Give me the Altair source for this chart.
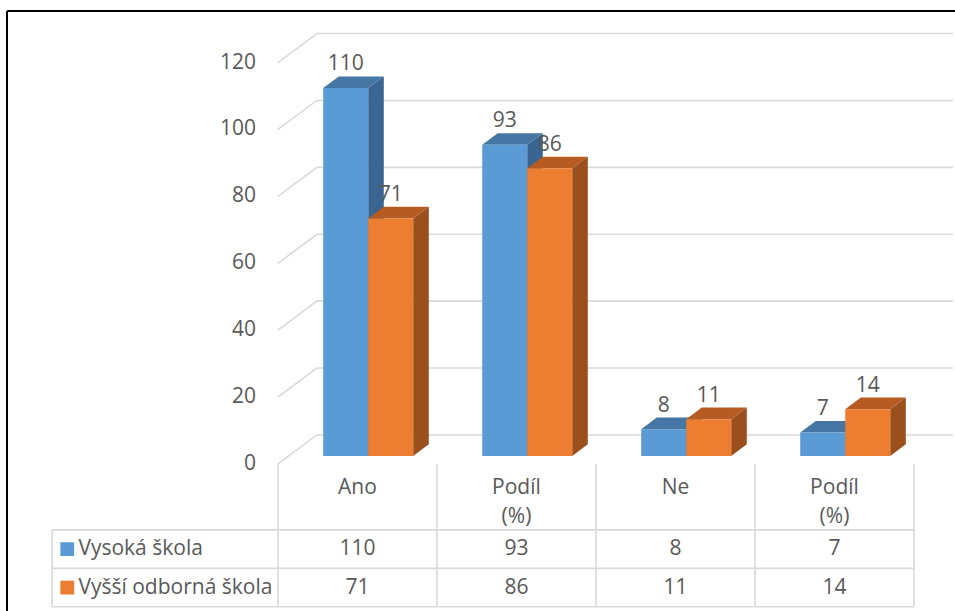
import altair as alt
import pandas as pd

# ---------------- data ----------------
categories = ["Ano", "Podíl (%)", "Ne", "Podíl (%)"]
header_lines = [["Ano"], ["Podíl", "(%)"], ["Ne"], ["Podíl", "(%)"]]
series_names = ["Vysoká škola", "Vyšší odborná škola"]
vysoka_skola = [110, 93, 8, 7]
vyssi_odborna = [71, 86, 11, 14]
y_ticks = [0, 20, 40, 60, 80, 100, 120]

# ---------------- style ----------------
front_colors = ["#5B9BD5", "#ED7D31"]
top_colors = ["#4676A4", "#B65B21"]
side_colors = ["#3A6590", "#9A4F1C"]
TEXT = "#595959"
GRID = "#D9D9D9"
FONT = "Open Sans"
FS = 21

# geometry in data units (x: one unit per category column, y: value units)
X_MIN, X_MAX = -1.748, 4.258
Y_MIN, Y_MAX = -43.95, 138.7
DEPTH_X, DEPTH_Y = 0.245, 8.67
BAR_D0, BAR_DT = 0.276, 0.40
BAR_W = 0.283
WALL_END = 4.245
HEADER_H, ROW_H = 19.7, 11.5
TABLE_LEFT = -1.42
LABEL_X = -0.138
FRAME_X, FRAME_Y = -1.704, 135.4

xs = alt.Scale(domain=[X_MIN, X_MAX], nice=False, zero=False)
ys = alt.Scale(domain=[Y_MIN, Y_MAX], nice=False, zero=False)


def X(f):
    return alt.X(f, type="quantitative", scale=xs, axis=None)


def Y(f):
    return alt.Y(f, type="quantitative", scale=ys, axis=None, stack=None)


layers = []

# gridlines (front-plane diagonal + back wall)
grid_rows = []
for t in y_ticks:
    grid_rows += [
        {"tick": t, "k": 0, "x": 0.0, "y": t},
        {"tick": t, "k": 1, "x": DEPTH_X, "y": t + DEPTH_Y},
        {"tick": t, "k": 2, "x": WALL_END, "y": t + DEPTH_Y},
    ]
layers.append(
    alt.Chart(pd.DataFrame(grid_rows)).mark_line(color=GRID, strokeWidth=1.6).encode(
        x=X("x"), y=Y("y"), detail="tick:N", order="k:Q"
    )
)

# y tick labels
layers.append(
    alt.Chart(pd.DataFrame({"t": y_ticks, "x": [LABEL_X] * len(y_ticks)})).mark_text(
        align="right", baseline="middle", font=FONT, fontSize=FS, color=TEXT
    ).encode(x=X("x"), y=Y("t"), text="t:Q")
)

# bars
bdx, bdy = BAR_DT * DEPTH_X, BAR_DT * DEPTH_Y
ox, oy = BAR_D0 * DEPTH_X, BAR_D0 * DEPTH_Y
label_rows = []
for s, vals in enumerate([vysoka_skola, vyssi_odborna]):
    side_rows, top_rows, front_rows = [], [], []
    for i, v in enumerate(vals):
        xl = i + 0.5 - BAR_W + s * BAR_W + ox
        xr = xl + BAR_W
        y0, y1 = oy, oy + v
        bid = f"{s}-{i}"
        front_rows.append({"id": bid, "x": xl, "x2": xr, "y": y0, "y2": y1})
        side_rows += [
            {"id": bid, "x": xr, "lo": y0, "hi": y1},
            {"id": bid, "x": xr + bdx, "lo": y0 + bdy, "hi": y1 + bdy},
        ]
        top_rows += [
            {"id": bid, "y": y1, "lo": xl, "hi": xr},
            {"id": bid, "y": y1 + bdy, "lo": xl + bdx, "hi": xr + bdx},
        ]
        label_rows.append({"x": xl + BAR_W / 2, "y": y1 + bdy, "v": v})
    layers.append(
        alt.Chart(pd.DataFrame(side_rows)).mark_area(
            orient="vertical", color=side_colors[s], opacity=1
        ).encode(x=X("x"), y=Y("lo"), y2="hi:Q", detail="id:N")
    )
    layers.append(
        alt.Chart(pd.DataFrame(top_rows)).mark_area(
            orient="horizontal", color=top_colors[s], opacity=1
        ).encode(y=Y("y"), x=X("lo"), x2="hi:Q", detail="id:N")
    )
    layers.append(
        alt.Chart(pd.DataFrame(front_rows)).mark_rect(color=front_colors[s]).encode(
            x=X("x"), x2="x2:Q", y=Y("y"), y2="y2:Q"
        )
    )

# value labels
layers.append(
    alt.Chart(pd.DataFrame(label_rows)).mark_text(
        align="center", baseline="alphabetic", dy=-6, font=FONT, fontSize=FS, color=TEXT
    ).encode(x=X("x"), y=Y("y"), text="v:Q")
)

# data table lines
r1 = -HEADER_H
r2 = r1 - ROW_H
r3 = r2 - ROW_H
seg = []
for c in range(5):
    seg.append({"x": c, "x2": c, "y": 0, "y2": r3})
for r in [r1, r2, r3]:
    seg.append({"x": TABLE_LEFT, "x2": 4, "y": r, "y2": r})
seg.append({"x": TABLE_LEFT, "x2": TABLE_LEFT, "y": r1, "y2": r3})
layers.append(
    alt.Chart(pd.DataFrame(seg)).mark_rule(color=GRID, strokeWidth=1.6).encode(
        x=X("x"), x2="x2:Q", y=Y("y"), y2="y2:Q"
    )
)

# header text
hdr = []
for i, lines in enumerate(header_lines):
    for j, ln in enumerate(lines):
        hdr.append({"x": i + 0.5, "y": -HEADER_H * (0.365 + 0.44 * j), "t": ln})
# table values
for s, vals in enumerate([vysoka_skola, vyssi_odborna]):
    yc = r1 - ROW_H * (s + 0.5)
    for i, v in enumerate(vals):
        hdr.append({"x": i + 0.5, "y": yc, "t": str(v)})
layers.append(
    alt.Chart(pd.DataFrame(hdr)).mark_text(
        align="center", baseline="middle", font=FONT, fontSize=FS, color=TEXT
    ).encode(x=X("x"), y=Y("y"), text="t:N")
)

# legend keys + series names
leg = pd.DataFrame(
    {
        "name": series_names,
        "y": [r1 - ROW_H * 0.5, r1 - ROW_H * 1.5],
        "kx": [TABLE_LEFT + 0.095] * 2,
        "tx": [TABLE_LEFT + 0.165] * 2,
    }
)
layers.append(
    alt.Chart(leg).mark_square(size=190, opacity=1).encode(
        x=X("kx"), y=Y("y"),
        color=alt.Color("name:N", scale=alt.Scale(domain=series_names, range=front_colors), legend=None),
    )
)
layers.append(
    alt.Chart(leg).mark_text(
        align="left", baseline="middle", font=FONT, fontSize=FS, color=TEXT
    ).encode(x=X("tx"), y=Y("y"), text="name:N")
)

# outer frame (left and top edges visible)
frame = pd.DataFrame(
    [
        {"x": FRAME_X, "x2": FRAME_X, "y": FRAME_Y, "y2": Y_MIN},
        {"x": FRAME_X, "x2": X_MAX, "y": FRAME_Y, "y2": FRAME_Y},
    ]
)
layers.append(
    alt.Chart(frame).mark_rule(color="#000000", strokeWidth=2).encode(
        x=X("x"), x2="x2:Q", y=Y("y"), y2="y2:Q"
    )
)

chart = alt.layer(*layers).properties(
    width=955, height=611, padding=0, autosize=alt.AutoSizeParams(type="none"),
    background="white",
).configure_view(stroke=None)

chart.save("out.html", embed_options={"renderer": "svg", "actions": False})
